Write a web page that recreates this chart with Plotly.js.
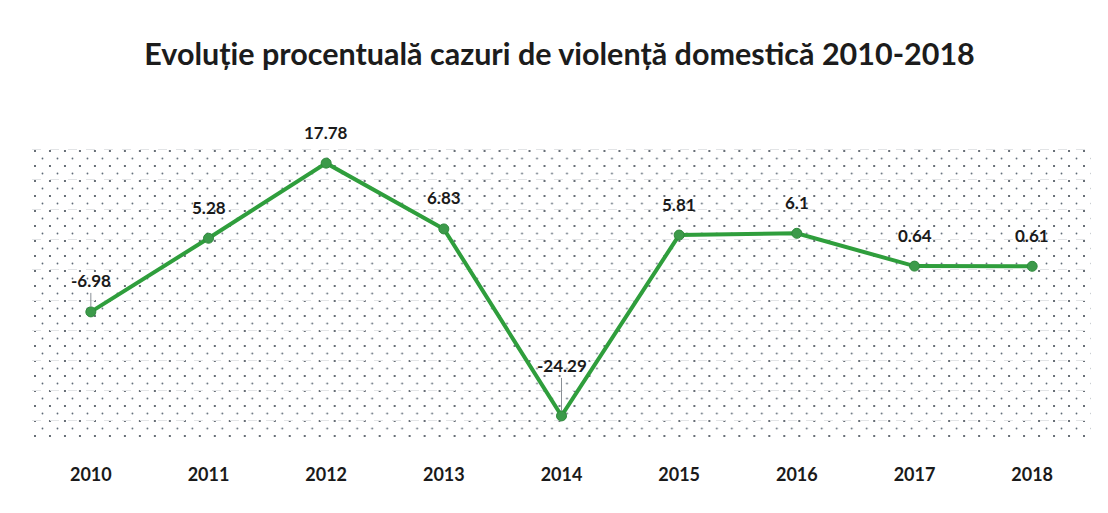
<!DOCTYPE html>
<html>
<head>
<meta charset="utf-8">
<script src="https://cdn.plot.ly/plotly-3.0.1.min.js"></script>
<style>html,body{margin:0;padding:0;background:#fff;}#chart{width:1108px;height:513px;}</style>
</head>
<body>
<div id="chart"></div>
<script>
const years = ['2010','2011','2012','2013','2014','2015','2016','2017','2018'];
const values = [-6.98, 5.28, 17.78, 6.83, -24.29, 5.81, 6.1, 0.64, 0.61];
const labelText = ['-6.98','5.28','17.78','6.83','-24.29','5.81','6.1','0.64','0.61'];
const leaderLine = [true, false, false, false, true, false, false, false, false];

const svgPattern = '<svg xmlns="http://www.w3.org/2000/svg" width="1060" height="292">' +
  '<defs><pattern id="p" width="15" height="15" patternUnits="userSpaceOnUse">' +
  '<circle cx="3" cy="3" r="1" fill="#1f2a36"/>' +
  '<circle cx="10.5" cy="10.5" r="0.9" fill="#4a5866"/></pattern></defs>' +
  '<rect width="1060" height="292" fill="url(#p)"/></svg>';
const bgUri = 'data:image/svg+xml;base64,' + btoa(svgPattern);

const annotations = years.map((y, i) => ({
  x: i, y: values[i], xref: 'x', yref: 'y',
  text: labelText[i],
  showarrow: true, arrowhead: 0, arrowwidth: 1,
  arrowcolor: leaderLine[i] ? '#8a8f95' : 'rgba(0,0,0,0)',
  ax: 0, ay: (values[i] < -20) ? -50 : -31,
  standoff: 5,
  font: {family: 'Lato, "Open Sans", sans-serif', size: 17, color: '#1a1a1a', weight: 'bold'}
}));

const trace = {
  x: years, y: values, type: 'scatter', mode: 'lines+markers',
  line: {color: '#2f9e3c', width: 4},
  marker: {size: 10, color: '#3c9a4a', line: {color: '#2f8a3c', width: 1}},
  hoverinfo: 'x+y'
};

const layout = {
  width: 1108, height: 513,
  margin: {l: 32, r: 17, t: 148, b: 73},
  paper_bgcolor: '#ffffff', plot_bgcolor: 'rgba(0,0,0,0)',
  title: {text: '<b>Evoluție procentuală cazuri de violență domestică 2010-2018</b>',
    x: 0.505, xanchor: 'center', y: 0.895, yanchor: 'middle',
    font: {family: 'Lato, "Open Sans", sans-serif', size: 30.5, color: '#1c1c1c'}},
  xaxis: {type: 'category', range: [-0.5, 8.5], showgrid: false, zeroline: false,
    showline: false, ticks: '', ticklabelstandoff: 22,
    tickfont: {family: 'Lato, "Open Sans", sans-serif', size: 18, color: '#1a1a1a', weight: 'bold'}},
  yaxis: {range: [-28.3, 20.3], dtick: 5, tick0: 0, showgrid: true,
    gridcolor: '#e2e4e6', gridwidth: 1, griddash: 'dash', zeroline: false,
    showticklabels: false, showline: false},
  images: [{source: bgUri, xref: 'paper', yref: 'paper', x: 0, y: 1,
    sizex: 1, sizey: 1, sizing: 'stretch', xanchor: 'left', yanchor: 'top',
    layer: 'below', opacity: 0.9}],
  annotations: annotations,
  showlegend: false
};

Plotly.newPlot('chart', [trace], layout, {displayModeBar: false, staticPlot: true});
</script>
</body>
</html>
